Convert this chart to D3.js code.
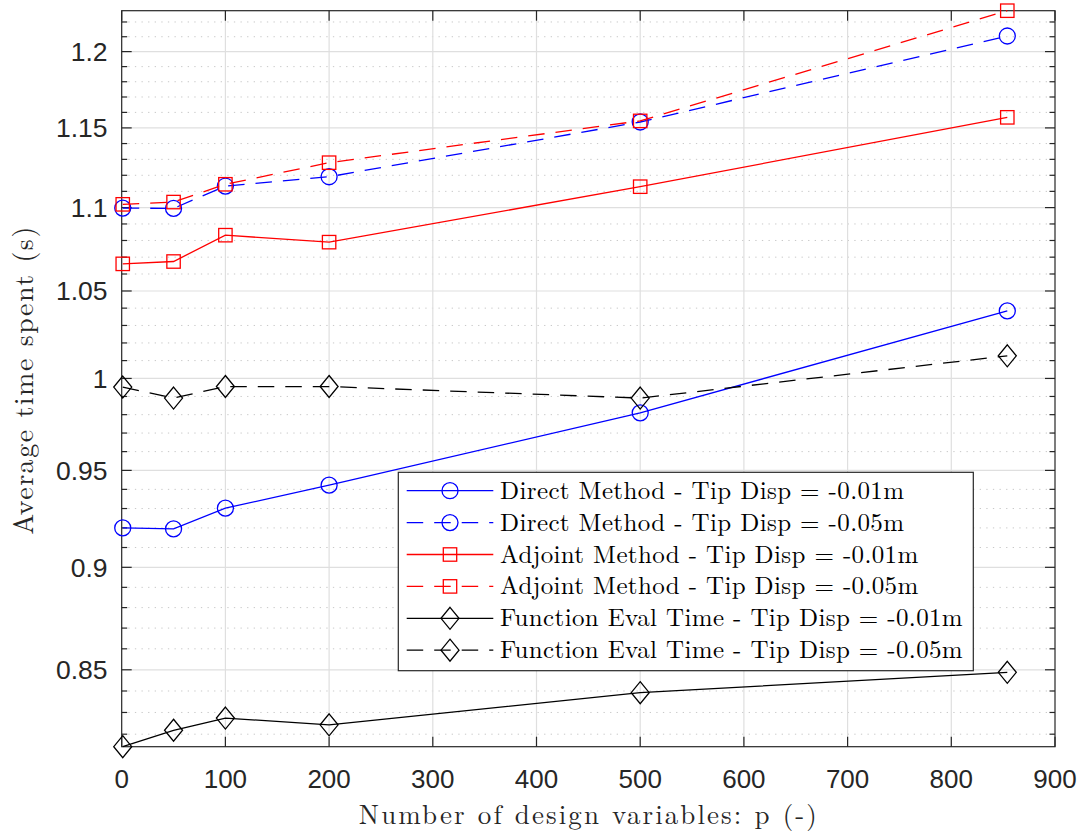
<!DOCTYPE html>
<html>
<head>
<meta charset="utf-8">
<script src="https://cdn.jsdelivr.net/npm/d3@7"></script>
<style>
  html, body { margin: 0; padding: 0; background: #fff; }
  svg { display: block; }
</style>
</head>
<body>
<svg id="chart" width="1083" height="834"></svg>
<script>
// ---------- data ----------
const pValues = [1, 50, 100, 200, 500, 854];
const directTip001  = [0.9200, 0.9195, 0.9302, 0.9422, 0.9810, 1.0384];
const directTip005  = [1.0997, 1.0995, 1.1133, 1.1191, 1.1538, 1.2105];
const adjointTip001 = [1.0660, 1.0674, 1.0832, 1.0790, 1.1129, 1.1568];
const adjointTip005 = [1.1020, 1.1034, 1.1144, 1.1279, 1.1545, 1.2277];
const funcTip001    = [0.8143, 0.8218, 0.8274, 0.8243, 0.8392, 0.8488];
const funcTip005    = [0.9952, 0.9891, 0.9955, 0.9955, 0.9891, 1.0127];

const seriesNames = [
  "Direct Method - Tip Disp = -0.01m",
  "Direct Method - Tip Disp = -0.05m",
  "Adjoint Method - Tip Disp = -0.01m",
  "Adjoint Method - Tip Disp = -0.05m",
  "Function Eval Time - Tip Disp = -0.01m",
  "Function Eval Time - Tip Disp = -0.05m"
];
const xTicks = [0, 100, 200, 300, 400, 500, 600, 700, 800, 900];
const yTicks = [0.85, 0.9, 0.95, 1, 1.05, 1.1, 1.15, 1.2];
const yTickLabels = ["0.85", "0.9", "0.95", "1", "1.05", "1.1", "1.15", "1.2"];
const yMinorTicks = [0.82, 0.83, 0.84, 0.86, 0.87, 0.88, 0.89, 0.91, 0.92, 0.93, 0.94,
  0.96, 0.97, 0.98, 0.99, 1.01, 1.02, 1.03, 1.04, 1.06, 1.07, 1.08, 1.09,
  1.11, 1.12, 1.13, 1.14, 1.16, 1.17, 1.18, 1.19, 1.21, 1.22];
const xDomain = [0, 900];
const yDomain = [0.8143, 1.2277];

const series = [
  { name: seriesNames[0], values: directTip001,  color: "#0000ff", dash: null,       marker: "circle" },
  { name: seriesNames[1], values: directTip005,  color: "#0000ff", dash: "16.5,11", marker: "circle" },
  { name: seriesNames[2], values: adjointTip001, color: "#ff0000", dash: null,       marker: "square" },
  { name: seriesNames[3], values: adjointTip005, color: "#ff0000", dash: "16.5,11", marker: "square" },
  { name: seriesNames[4], values: funcTip001,    color: "#000000", dash: null,       marker: "diamond" },
  { name: seriesNames[5], values: funcTip005,    color: "#000000", dash: "16.5,11", marker: "diamond" }
];

// ---------- layout ----------
const L = 121.7, R = 1055, T = 10.7, B = 746.7;
const axisColor = "#262626";
const svg = d3.select("#chart");

const x = d3.scaleLinear().domain(xDomain).range([L, R]);
const y = d3.scaleLog().domain(yDomain).range([B, T]);

// grid
const grid = svg.append("g");
grid.selectAll(".ymin").data(yMinorTicks).enter().append("line")
  .attr("x1", L).attr("x2", R)
  .attr("y1", d => y(d)).attr("y2", d => y(d))
  .attr("stroke", "#c8c8c8").attr("stroke-width", 1)
  .attr("stroke-dasharray", "1.3,5.3");
grid.selectAll(".ymaj").data(yTicks).enter().append("line")
  .attr("x1", L).attr("x2", R)
  .attr("y1", d => y(d)).attr("y2", d => y(d))
  .attr("stroke", "#dfdfdf").attr("stroke-width", 1.2);
grid.selectAll(".xmaj").data(xTicks.slice(1, -1)).enter().append("line")
  .attr("y1", T).attr("y2", B)
  .attr("x1", d => x(d)).attr("x2", d => x(d))
  .attr("stroke", "#dfdfdf").attr("stroke-width", 1.2);

// axes box and ticks
const ax = svg.append("g");
ax.append("rect").attr("x", L).attr("y", T).attr("width", R - L).attr("height", B - T)
  .attr("fill", "none").attr("stroke", axisColor).attr("stroke-width", 1.2);

const majLen = 10, minLen = 5.5;
xTicks.forEach(d => {
  ax.append("line").attr("x1", x(d)).attr("x2", x(d)).attr("y1", B).attr("y2", B - majLen)
    .attr("stroke", axisColor).attr("stroke-width", 1.2);
  ax.append("line").attr("x1", x(d)).attr("x2", x(d)).attr("y1", T).attr("y2", T + majLen)
    .attr("stroke", axisColor).attr("stroke-width", 1.2);
});
yTicks.forEach(d => {
  ax.append("line").attr("x1", L).attr("x2", L + majLen).attr("y1", y(d)).attr("y2", y(d))
    .attr("stroke", axisColor).attr("stroke-width", 1.2);
  ax.append("line").attr("x1", R).attr("x2", R - majLen).attr("y1", y(d)).attr("y2", y(d))
    .attr("stroke", axisColor).attr("stroke-width", 1.2);
});
yMinorTicks.forEach(d => {
  ax.append("line").attr("x1", L).attr("x2", L + minLen).attr("y1", y(d)).attr("y2", y(d))
    .attr("stroke", axisColor).attr("stroke-width", 1.2);
  ax.append("line").attr("x1", R).attr("x2", R - minLen).attr("y1", y(d)).attr("y2", y(d))
    .attr("stroke", axisColor).attr("stroke-width", 1.2);
});

// tick labels
const tickFont = "'Liberation Sans', Arial, Helvetica, sans-serif";
ax.selectAll(".xl").data(xTicks).enter().append("text")
  .attr("x", d => x(d)).attr("y", 787.5)
  .attr("text-anchor", "middle")
  .attr("font-family", tickFont).attr("font-size", 26).attr("fill", axisColor)
  .text(d => d);
ax.selectAll(".yl").data(yTicks).enter().append("text")
  .attr("x", 107.5).attr("y", d => y(d) + 9.5)
  .attr("text-anchor", "end")
  .attr("font-family", tickFont).attr("font-size", 26.5).attr("fill", axisColor)
  .text((d, i) => yTickLabels[i]);

// axis labels
const serif = "'Latin Modern Roman', 'CMU Serif', 'Liberation Serif', 'DejaVu Serif', serif";
svg.append("text")
  .attr("x", (L + R) / 2 - 0.5).attr("y", 824)
  .attr("text-anchor", "middle")
  .attr("font-family", serif).attr("font-size", 27).attr("fill", axisColor)
  .attr("textLength", 458).attr("lengthAdjust", "spacing")
  .text("Number of design variables: p (-)");
svg.append("text")
  .attr("transform", `translate(32.5, ${(T + B) / 2 + 2}) rotate(-90)`)
  .attr("text-anchor", "middle")
  .attr("font-family", serif).attr("font-size", 28).attr("fill", axisColor)
  .attr("textLength", 308).attr("lengthAdjust", "spacing")
  .text("Average time spent (s)");

// marker drawing
function drawMarker(g, type, cx, cy, color) {
  if (type === "circle") {
    g.append("circle").attr("cx", cx).attr("cy", cy).attr("r", 8)
      .attr("fill", "none").attr("stroke", color).attr("stroke-width", 1.3);
  } else if (type === "square") {
    g.append("rect").attr("x", cx - 6.7).attr("y", cy - 6.7).attr("width", 13.4).attr("height", 13.4)
      .attr("fill", "none").attr("stroke", color).attr("stroke-width", 1.3);
  } else {
    g.append("path")
      .attr("d", `M${cx},${cy - 11}L${cx + 9},${cy}L${cx},${cy + 11}L${cx - 9},${cy}Z`)
      .attr("fill", "none").attr("stroke", color).attr("stroke-width", 1.3);
  }
}

// series
const line = d3.line().x(d => x(d[0])).y(d => y(d[1]));
const plot = svg.append("g");
series.forEach(s => {
  const pts = pValues.map((p, i) => [p, s.values[i]]);
  const g = plot.append("g");
  g.append("path").attr("d", line(pts))
    .attr("fill", "none").attr("stroke", s.color).attr("stroke-width", 1.3)
    .attr("stroke-dasharray", s.dash);
  pts.forEach(pt => drawMarker(g, s.marker, x(pt[0]), y(pt[1]), s.color));
});

// legend
const legX = 398.3, legY = 472.3, legW = 575, legH = 198.4;
const lg = svg.append("g");
lg.append("rect").attr("x", legX).attr("y", legY).attr("width", legW).attr("height", legH)
  .attr("fill", "#fff").attr("stroke", axisColor).attr("stroke-width", 1.2);
const legendTextLengths = [404, 404, 418.3, 418.3, 462.7, 462.7];
series.forEach((s, i) => {
  const cy = 490.7 + i * 31.9;
  lg.append("line").attr("x1", 406.7).attr("x2", 493.3).attr("y1", cy).attr("y2", cy)
    .attr("stroke", s.color).attr("stroke-width", 1.3).attr("stroke-dasharray", s.dash);
  drawMarker(lg, s.marker, 450, cy, s.color);
  lg.append("text").attr("x", 500).attr("y", cy + 8)
    .attr("font-family", serif).attr("font-size", 25).attr("fill", "#000")
    .attr("textLength", legendTextLengths[i]).attr("lengthAdjust", "spacing")
    .text(s.name);
});
</script>
</body>
</html>
